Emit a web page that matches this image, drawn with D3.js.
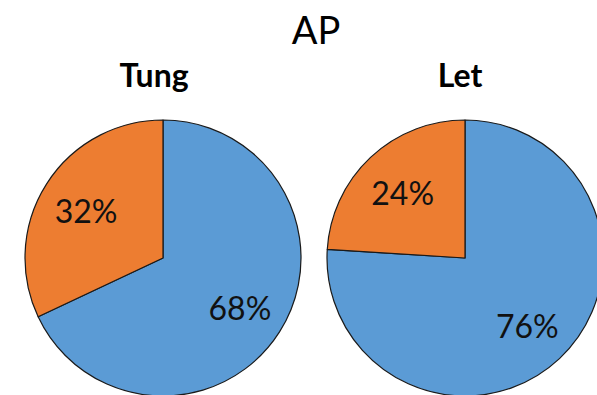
<!DOCTYPE html>
<html>
<head>
<meta charset="utf-8">
<script src="https://cdn.jsdelivr.net/npm/d3@7"></script>
<style>
  html, body { margin: 0; padding: 0; background: #fff; overflow: hidden; }
  svg { display: block; }
</style>
</head>
<body>
<svg id="chart" width="597" height="395"></svg>
<script>
// Shares per group (percent)
const chartTitle = "AP";
const groups = ["Tung", "Let"];
const categories = ["Blue share", "Orange share"];
const tungValues = [68, 32];
const letValues = [76, 24];
const colors = ["#5B9BD5", "#ED7D31"];

const svg = d3.select("#chart");
const radius = 138;
const centersX = d3.scalePoint().domain(groups).range([163, 465]);
const centerY = 258;
const fontFamily = "Lato, 'Open Sans', sans-serif";
// small horizontal nudge of each group heading relative to its pie centre
const headingShift = { "Tung": -9, "Let": -5 };

svg.append("text")
  .attr("x", 316).attr("y", 44)
  .attr("text-anchor", "middle")
  .style("font-family", fontFamily)
  .style("font-size", "38px")
  .attr("fill", "#000")
  .text(chartTitle);

const pie = d3.pie().sort(null).value(d => d);
const arc = d3.arc().innerRadius(0).outerRadius(radius);
const labelArc = d3.arc().innerRadius(radius * 0.66).outerRadius(radius * 0.66);
const colorScale = d3.scaleOrdinal().domain(categories).range(colors);

const seriesByGroup = { "Tung": tungValues, "Let": letValues };

groups.forEach(g => {
  const cx = centersX(g);
  svg.append("text")
    .attr("x", cx + headingShift[g]).attr("y", 87)
    .attr("text-anchor", "middle")
    .style("font-family", fontFamily)
    .style("font-weight", "bold")
    .style("font-size", "32px")
    .attr("fill", "#000")
    .text(g);

  const gEl = svg.append("g").attr("transform", `translate(${cx},${centerY})`);
  const arcs = pie(seriesByGroup[g]);

  gEl.selectAll("path")
    .data(arcs)
    .join("path")
    .attr("d", arc)
    .attr("fill", (d, i) => colorScale(categories[i]))
    .attr("stroke", "#1a1a1a")
    .attr("stroke-width", 1.2)
    .attr("stroke-linejoin", "round");

  gEl.selectAll("text")
    .data(arcs)
    .join("text")
    .attr("transform", d => {
      const [x, y] = labelArc.centroid(d);
      return `translate(${x},${y + (y > 0 ? 2 : 2)})`;
    })
    .attr("text-anchor", "middle")
    .attr("dy", "0.36em")
    .style("font-family", fontFamily)
    .style("font-size", "32px")
    .attr("fill", "#111")
    .text(d => d.data + "%");
});
</script>
</body>
</html>
